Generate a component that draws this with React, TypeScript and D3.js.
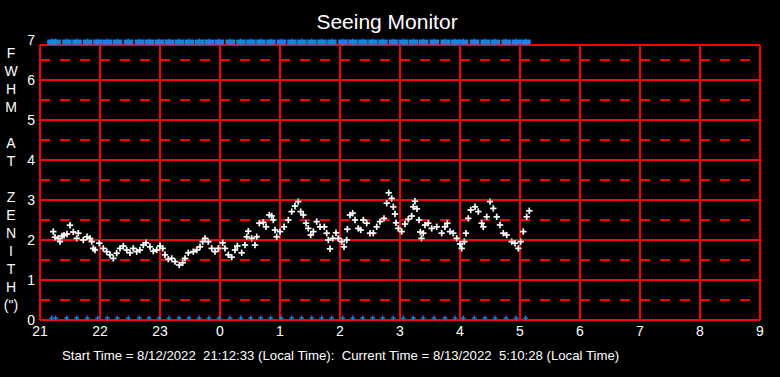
import React from "react";
import * as d3 from "d3";

// minutes after 21:00 on 8/12/2022, and FWHM seeing (arcsec)
const seeingMinutes = [
  13.3, 15, 18.3, 20, 22, 24, 27, 30, 33.3, 36.7, 38.3, 43.3, 47, 50, 51.7, 53.3, 55, 59.3,
  63.3, 66.7, 70, 73.3, 76.7, 80, 83.3, 86.7, 90, 93.3, 96.7, 100, 103.3, 106, 110, 113.3,
  116.7, 120, 122.7, 125, 128.3, 131.7, 135, 139.3, 142.7, 145, 148.3, 153.3, 156.7, 160,
  162.7, 165, 168.3, 171.7, 175, 178.3, 182.7, 185, 188.3, 191.7, 195, 197.3, 201.7, 205,
  206.7, 208.3, 211.7, 215, 216.7, 219.3, 223.3, 226, 229.3, 231.7, 233.3, 235, 236.7, 240,
  244, 248.3, 251.7, 255, 258.3, 260.7, 263.3, 266, 268.3, 270.7, 273.3, 276.7, 280, 284.3,
  286.7, 288.3, 290, 292.7, 296, 298.3, 301.7, 304, 306.7, 307.3, 310, 312.7, 315, 318.3,
  320.7, 323.3, 326.7, 330, 333.3, 336.7, 340, 344, 346.7, 348.7, 351.7, 353.3, 355, 356,
  358.3, 361.7, 365, 368.3, 371.7, 373.3, 375, 377, 379, 380.3, 381.5, 383.3, 385, 388.3,
  391.7, 396.7, 401.7, 405, 407.3, 410, 413.3, 416.7, 420, 421.7, 424.3, 426, 428.3, 430.7,
  435, 438.3, 441.7, 443.3, 446.7, 450, 453.3, 456.7, 460, 463.3, 466.7, 471.7, 475, 478.3,
  480.7, 483.3, 486.7, 489.3,
];
const seeingValues = [
  2.21, 2.07, 2.04, 1.96, 2.1, 2.12, 2.15, 2.37, 2.2, 2.04, 2.17, 2.0, 2.08, 2.04, 1.96, 1.79,
  1.75, 1.92, 1.79, 1.71, 1.63, 1.54, 1.67, 1.79, 1.85, 1.75, 1.68, 1.79, 1.71, 1.75, 1.875,
  1.93, 1.83, 1.72, 1.75, 1.85, 1.79, 1.63, 1.52, 1.54, 1.46, 1.375, 1.43, 1.54, 1.68, 1.71,
  1.75, 1.83, 1.96, 2.04, 1.96, 1.79, 1.71, 1.79, 1.93, 1.79, 1.63, 1.57, 1.75, 1.85, 1.68,
  1.875, 2.08, 2.22, 2.04, 1.875, 2.08, 2.42, 2.44, 2.33, 2.625, 2.6, 2.5, 2.25, 2.08, 2.21,
  2.33, 2.5, 2.71, 2.85, 2.96, 2.71, 2.625, 2.42, 2.29, 2.125, 2.21, 2.46, 2.33, 2.33, 2.17,
  2.0, 1.78, 2.04, 2.18, 2.04, 1.96, 1.83, 2.0, 2.27, 2.625, 2.67, 2.5, 2.29, 2.25, 2.5, 2.42,
  2.17, 2.17, 2.33, 2.46, 2.54, 2.92, 3.18, 3.04, 2.83, 2.65, 2.43, 2.29, 2.21, 2.4, 2.52,
  2.6, 2.83, 2.97, 2.78, 2.5, 2.2, 2.04, 2.17, 2.375, 2.42, 2.29, 2.33, 2.17, 2.33, 2.42, 2.21,
  2.17, 2.04, 1.9, 1.79, 1.96, 2.17, 2.54, 2.75, 2.83, 2.71, 2.42, 2.33, 2.58, 2.96, 2.79,
  2.58, 2.375, 2.17, 2.125, 1.96, 1.92, 1.79, 1.96, 2.21, 2.58, 2.73,
];

// blue status markers (minutes after 21:00)
const statusMinutes = [
  11.7, 15.7, 26.7, 36.7, 47.3, 57.7, 67.3, 77.3, 88.3, 99.3, 109, 119, 129, 139, 149, 159.3,
  169, 179, 190, 200.7, 210.7, 220.7, 230.7, 241.3, 251.7, 261.7, 271.7, 281.7, 291.7, 302.7,
  312.7, 322.7, 332.7, 342.7, 353.3, 363.3, 373.3, 383.3, 394, 405, 415, 423.3, 434.3, 445,
  455, 466, 476, 485.7,
];

const hourLabels = ["21", "22", "23", "0", "1", "2", "3", "4", "5", "6", "7", "8", "9"];
const yTickValues = [0, 1, 2, 3, 4, 5, 6, 7];
const yTitleLetters = ["F", "W", "H", "M", "", "A", "T", "", "Z", "E", "N", "I", "T", "H", "(\")"];

const W = 780;
const H = 377;
const RED = "#ff0000";
const BLUE = "#1a80f0";
const FONT = "'Liberation Sans', Arial, sans-serif";

export default function App() {
  const x = d3.scaleLinear().domain([0, 720]).range([40, 760]);
  const y = d3.scaleLinear().domain([0, 7]).range([320, 40]);
  const top = y(6.875);
  const bottom = y(0);
  const left = x(0);
  const right = x(720);

  const halfLines = d3.range(0.5, 7, 1);
  const fullLines = d3.range(1, 7, 1);

  return (
    <svg
      width={W}
      height={H}
      style={{ position: "absolute", left: 0, top: 0, display: "block", background: "#000" }}
    >
      <rect x={0} y={0} width={W} height={H} fill="#000" />
      <text x={387} y={29} fill="#fff" fontFamily={FONT} fontSize={21} textAnchor="middle">
        Seeing Monitor
      </text>

      {/* grid */}
      <g shapeRendering="crispEdges">
        {halfLines.map((v) => (
          <line
            key={"h" + v}
            x1={left}
            x2={right}
            y1={y(v)}
            y2={y(v)}
            stroke={RED}
            strokeWidth={1.2}
            strokeDasharray="10,10"
          />
        ))}
        {fullLines.map((v) => (
          <line key={"f" + v} x1={left} x2={right} y1={y(v)} y2={y(v)} stroke={RED} strokeWidth={1.2} />
        ))}
        {hourLabels.map((_, i) => (
          <line
            key={"v" + i}
            x1={x(i * 60)}
            x2={x(i * 60)}
            y1={top}
            y2={bottom}
            stroke={RED}
            strokeWidth={1.2}
          />
        ))}
        <line x1={left} x2={right} y1={top} y2={top} stroke={RED} strokeWidth={1.2} />
        <line x1={left} x2={right} y1={bottom} y2={bottom} stroke={RED} strokeWidth={1.2} />
      </g>

      {/* x tick labels */}
      {hourLabels.map((lab, i) => (
        <text
          key={"xl" + i}
          x={x(i * 60)}
          y={336}
          fill="#fff"
          fontFamily={FONT}
          fontSize={14}
          textAnchor="middle"
        >
          {lab}
        </text>
      ))}

      {/* y tick labels */}
      {yTickValues.map((v) => (
        <text
          key={"yl" + v}
          x={35}
          y={y(v) + 5}
          fill="#fff"
          fontFamily={FONT}
          fontSize={14}
          textAnchor="end"
        >
          {v}
        </text>
      ))}

      {/* y title letters */}
      {yTitleLetters.map((c, i) => (
        <text
          key={"yt" + i}
          x={11}
          y={58 + i * 18}
          fill="#fff"
          fontFamily={FONT}
          fontSize={14}
          textAnchor="middle"
        >
          {c}
        </text>
      ))}

      {/* top status band */}
      <g fill={BLUE}>
        {statusMinutes.map((m, i) => (
          <g key={"tb" + i}>
            <rect x={x(m) - 4.5} y={39.5} width={9.5} height={5} />
            <rect x={x(m) - 0.5} y={38.5} width={1} height={7} />
          </g>
        ))}
      </g>

      {/* bottom status markers */}
      <g stroke={BLUE} strokeWidth={1.3}>
        {statusMinutes.map((m, i) => (
          <g key={"bm" + i}>
            <line x1={x(m) - 2.5} x2={x(m) + 2.5} y1={318} y2={318} />
            <line x1={x(m)} x2={x(m)} y1={315.5} y2={320.5} />
          </g>
        ))}
      </g>

      {/* seeing data */}
      <g stroke="#fff" strokeWidth={1.7}>
        {seeingMinutes.map((m, i) => {
          const cx = x(m);
          const cy = y(seeingValues[i]);
          return (
            <g key={"p" + i}>
              <line x1={cx - 3.2} x2={cx + 3.2} y1={cy} y2={cy} />
              <line x1={cx} x2={cx} y1={cy - 3.2} y2={cy + 3.2} />
            </g>
          );
        })}
      </g>

      <text
        x={62}
        y={360}
        fill="#fff"
        fontFamily={FONT}
        fontSize={13.2}
        style={{ whiteSpace: "pre" }}
      >
        {"Start Time = 8/12/2022  21:12:33 (Local Time):  Current Time = 8/13/2022  5:10:28 (Local Time)"}
      </text>
    </svg>
  );
}
